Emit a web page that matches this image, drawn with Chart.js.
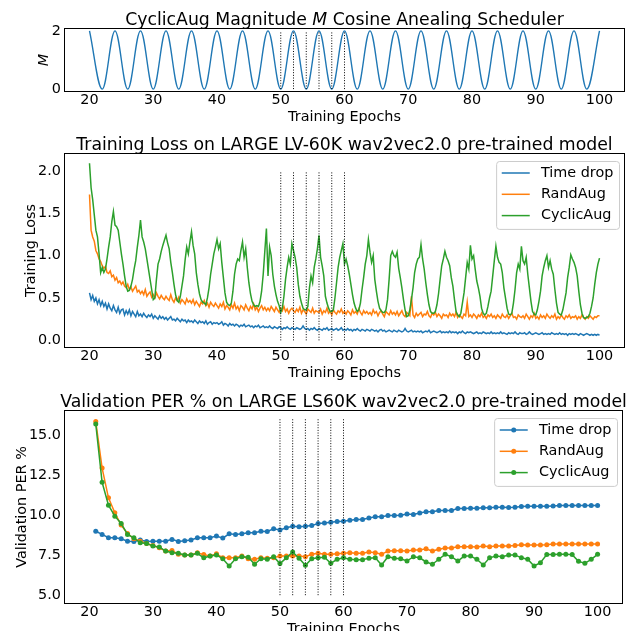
<!DOCTYPE html>
<html>
<head>
<meta charset="utf-8">
<script src="https://cdn.jsdelivr.net/npm/chart.js@4.4.0/dist/chart.umd.min.js"></script>
<style>
html, body { margin: 0; padding: 0; background: #fff; width: 627px; height: 631px; overflow: hidden; }
.panel { position: absolute; left: 0; width: 627px; }
</style>
</head>
<body>
<div class="panel" style="top:0px"><canvas id="schedChart" width="627" height="130"></canvas></div>
<div class="panel" style="top:125px"><canvas id="lossChart" width="627" height="261"></canvas></div>
<div class="panel" style="top:382px"><canvas id="perChart" width="627" height="260"></canvas></div>
<script>
"use strict";

// ---- data -----------------------------------------------------------
var epochTicks = [20, 30, 40, 50, 60, 70, 80, 90, 100];
var markEpochs = [50, 52, 54, 56, 58, 60];

// magnitude M scheduler: turning points, one every 2 epochs
var mEpochs = [20, 22, 24, 26, 28, 30, 32, 34, 36, 38, 40, 42, 44, 46, 48, 50, 52, 54, 56, 58,
               60, 62, 64, 66, 68, 70, 72, 74, 76, 78, 80, 82, 84, 86, 88, 90, 92, 94, 96, 98, 100];
var mValues = [2, 0, 2, 0, 2, 0, 2, 0, 2, 0, 2, 0, 2, 0, 2, 0, 2, 0, 2, 0,
               2, 0, 2, 0, 2, 0, 2, 0, 2, 0, 2, 0, 2, 0, 2, 0, 2, 0, 2, 0, 2];
var mTicks = [0, 2];

// training loss, one value every quarter epoch from epoch 20
var lossStart = 20;
var lossStep = 0.25;
var lossTicks = [0.0, 0.5, 1.0, 1.5, 2.0];
var lossTimeDrop = [
  0.56, 0.48, 0.53, 0.46, 0.50, 0.43, 0.48, 0.41, 0.46, 0.40, 0.44, 0.37, 0.43, 0.38, 0.35, 0.41,
  0.36, 0.33, 0.39, 0.32, 0.36, 0.37, 0.30, 0.35, 0.31, 0.36, 0.29, 0.34, 0.31, 0.28, 0.34, 0.29,
  0.31, 0.28, 0.32, 0.29, 0.27, 0.30, 0.28, 0.31, 0.26, 0.29, 0.27, 0.25, 0.29, 0.26, 0.28, 0.25,
  0.27, 0.24, 0.26, 0.28, 0.24, 0.25, 0.23, 0.26, 0.24, 0.22, 0.25, 0.23, 0.24, 0.21, 0.24, 0.22,
  0.23, 0.21, 0.24, 0.22, 0.20, 0.23, 0.21, 0.22, 0.20, 0.23, 0.19, 0.21, 0.22, 0.19, 0.21, 0.20,
  0.21, 0.19, 0.20, 0.22, 0.18, 0.20, 0.19, 0.17, 0.20, 0.18, 0.19, 0.17, 0.19, 0.18, 0.16, 0.18,
  0.17, 0.19, 0.16, 0.17, 0.18, 0.16, 0.17, 0.15, 0.17, 0.16, 0.18, 0.15, 0.16, 0.17, 0.15, 0.16,
  0.15, 0.17, 0.15, 0.14, 0.16, 0.15, 0.14, 0.16, 0.15, 0.13, 0.15, 0.14, 0.16, 0.14, 0.13, 0.15,
  0.14, 0.13, 0.15, 0.14, 0.13, 0.14, 0.17, 0.14, 0.13, 0.14, 0.12, 0.14, 0.13, 0.15, 0.13, 0.12,
  0.14, 0.13, 0.12, 0.14, 0.13, 0.15, 0.12, 0.13, 0.14, 0.12, 0.13, 0.14, 0.12, 0.13, 0.15, 0.12,
  0.13, 0.12, 0.14, 0.12, 0.13, 0.11, 0.13, 0.12, 0.14, 0.12, 0.11, 0.13, 0.12, 0.11, 0.13, 0.12,
  0.11, 0.13, 0.12, 0.11, 0.12, 0.10, 0.12, 0.13, 0.11, 0.12, 0.10, 0.11, 0.12, 0.11, 0.10, 0.12,
  0.11, 0.10, 0.12, 0.11, 0.10, 0.11, 0.14, 0.11, 0.10, 0.11, 0.12, 0.10, 0.11, 0.10, 0.11, 0.10,
  0.11, 0.09, 0.10, 0.11, 0.10, 0.12, 0.09, 0.10, 0.11, 0.10, 0.09, 0.10, 0.11, 0.09, 0.10, 0.09,
  0.10, 0.09, 0.11, 0.09, 0.10, 0.09, 0.10, 0.08, 0.10, 0.09, 0.11, 0.09, 0.08, 0.10, 0.09, 0.10,
  0.09, 0.08, 0.09, 0.10, 0.08, 0.09, 0.08, 0.10, 0.09, 0.08, 0.09, 0.08, 0.10, 0.08, 0.09, 0.08,
  0.09, 0.08, 0.10, 0.08, 0.09, 0.08, 0.07, 0.09, 0.08, 0.09, 0.08, 0.10, 0.08, 0.07, 0.09, 0.08,
  0.08, 0.09, 0.07, 0.08, 0.10, 0.08, 0.07, 0.08, 0.09, 0.08, 0.07, 0.08, 0.09, 0.07, 0.08, 0.07,
  0.08, 0.07, 0.09, 0.08, 0.07, 0.08, 0.07, 0.09, 0.07, 0.08, 0.07, 0.08, 0.06, 0.08, 0.07, 0.08,
  0.07, 0.08, 0.07, 0.06, 0.08, 0.07, 0.06, 0.07, 0.08, 0.07, 0.06, 0.07, 0.06, 0.07, 0.06, 0.07,
  0.06
];
var lossRandAug = [
  1.72, 1.30, 1.22, 1.17, 1.06, 1.02, 0.96, 0.93, 0.88, 0.85, 0.87, 0.80, 0.79, 0.82, 0.75, 0.77,
  0.71, 0.74, 0.68, 0.70, 0.66, 0.69, 0.64, 0.62, 0.66, 0.60, 0.63, 0.58, 0.61, 0.64, 0.57, 0.59,
  0.55, 0.58, 0.54, 0.60, 0.52, 0.55, 0.57, 0.51, 0.54, 0.50, 0.56, 0.52, 0.49, 0.53, 0.50, 0.48,
  0.52, 0.49, 0.47, 0.54, 0.48, 0.45, 0.50, 0.47, 0.51, 0.44, 0.48, 0.46, 0.43, 0.49, 0.45, 0.47,
  0.44, 0.48, 0.42, 0.46, 0.43, 0.40, 0.45, 0.43, 0.47, 0.41, 0.44, 0.39, 0.45, 0.42, 0.40, 0.44,
  0.41, 0.38, 0.43, 0.40, 0.45, 0.37, 0.41, 0.39, 0.36, 0.42, 0.38, 0.44, 0.37, 0.40, 0.35, 0.41,
  0.39, 0.36, 0.42, 0.38, 0.35, 0.40, 0.37, 0.43, 0.36, 0.39, 0.34, 0.38, 0.41, 0.36, 0.39, 0.35,
  0.38, 0.35, 0.40, 0.37, 0.34, 0.39, 0.36, 0.33, 0.38, 0.35, 0.40, 0.34, 0.37, 0.32, 0.36, 0.38,
  0.35, 0.33, 0.37, 0.34, 0.39, 0.32, 0.36, 0.34, 0.31, 0.37, 0.35, 0.33, 0.38, 0.32, 0.35, 0.34,
  0.33, 0.37, 0.31, 0.35, 0.33, 0.38, 0.32, 0.34, 0.30, 0.36, 0.33, 0.31, 0.35, 0.33, 0.37, 0.32,
  0.34, 0.31, 0.35, 0.33, 0.30, 0.36, 0.32, 0.34, 0.31, 0.37, 0.33, 0.30, 0.35, 0.32, 0.34, 0.31,
  0.33, 0.30, 0.36, 0.32, 0.34, 0.29, 0.33, 0.35, 0.31, 0.28, 0.34, 0.32, 0.30, 0.35, 0.31, 0.33,
  0.30, 0.34, 0.29, 0.32, 0.35, 0.30, 0.28, 0.33, 0.31, 0.29, 0.52, 0.30, 0.27, 0.32, 0.29, 0.31,
  0.33, 0.28, 0.31, 0.30, 0.34, 0.29, 0.27, 0.32, 0.30, 0.33, 0.28, 0.31, 0.29, 0.26, 0.31, 0.29,
  0.30, 0.27, 0.32, 0.29, 0.31, 0.28, 0.33, 0.27, 0.30, 0.28, 0.26, 0.31, 0.29, 0.45, 0.28, 0.30,
  0.27, 0.31, 0.29, 0.26, 0.30, 0.28, 0.32, 0.27, 0.29, 0.26, 0.30, 0.28, 0.31, 0.27, 0.29, 0.26,
  0.30, 0.28, 0.26, 0.31, 0.28, 0.27, 0.30, 0.26, 0.29, 0.32, 0.27, 0.28, 0.25, 0.30, 0.28, 0.27,
  0.29, 0.26, 0.31, 0.28, 0.25, 0.29, 0.27, 0.32, 0.26, 0.28, 0.25, 0.30, 0.27, 0.29, 0.26, 0.31,
  0.28, 0.26, 0.29, 0.27, 0.31, 0.25, 0.28, 0.26, 0.30, 0.27, 0.25, 0.29, 0.27, 0.30, 0.26, 0.28,
  0.27, 0.29, 0.25, 0.28, 0.26, 0.30, 0.27, 0.25, 0.28, 0.26, 0.29, 0.27, 0.25, 0.28, 0.27, 0.29,
  0.29
];
var lossCyclicAug = [
  2.09, 1.80, 1.66, 1.48, 1.30, 1.22, 1.02, 0.80,
  0.86, 0.80, 0.84, 0.96, 1.10, 1.22, 1.40, 1.52, 1.36, 1.34, 1.30, 1.16, 1.02, 0.90, 0.76, 0.64,
  0.58, 0.59, 0.64, 0.72, 0.84, 0.94, 1.10, 1.24, 1.42, 1.22, 1.16, 1.08, 0.96, 0.84, 0.72, 0.60,
  0.48, 0.50, 0.72, 0.90, 0.96, 1.05, 1.12, 1.18, 1.24, 1.15, 1.08, 0.92, 0.80, 0.66, 0.54, 0.47,
  0.45, 0.52, 0.64, 0.76, 0.95, 1.10, 1.02, 1.16, 1.28, 1.12, 1.02, 0.80, 0.66, 0.55, 0.48, 0.45,
  0.44, 0.42, 0.50, 0.62, 0.78, 0.90, 1.02, 1.10, 1.19, 1.08, 1.14, 0.92, 0.74, 0.56, 0.45, 0.42,
  0.41, 0.44, 0.58, 0.78, 0.90, 0.96, 0.94, 1.06, 1.16, 0.98, 1.08, 0.86, 0.68, 0.55, 0.46, 0.42,
  0.40, 0.41, 0.40, 0.46, 0.58, 0.78, 1.05, 1.32, 0.76, 1.10, 1.00, 0.78, 0.64, 0.54, 0.46, 0.41,
  0.33, 0.38, 0.52, 0.72, 0.86, 0.98, 0.90, 1.14, 1.06, 0.98, 0.86, 0.66, 0.52, 0.44, 0.38, 0.36,
  0.36, 0.40, 0.62, 0.76, 0.68, 0.86, 0.96, 1.08, 1.24, 0.98, 0.88, 0.76, 0.52, 0.44, 0.38, 0.34,
  0.34, 0.36, 0.50, 0.68, 0.86, 0.98, 1.06, 1.14, 0.90, 0.96, 0.88, 0.78, 0.66, 0.54, 0.44, 0.38,
  0.34, 0.36, 0.44, 0.60, 0.74, 0.90, 1.00, 1.19, 1.04, 0.92, 1.00, 0.72, 0.58, 0.46, 0.38, 0.35,
  0.33, 0.33, 0.36, 0.48, 0.72, 1.00, 1.05, 1.00, 0.98, 1.04, 0.85, 0.74, 0.62, 0.48, 0.36, 0.28,
  0.29, 0.36, 0.48, 0.62, 0.80, 0.90, 0.96, 0.98, 1.13, 0.96, 0.84, 0.68, 0.54, 0.42, 0.34, 0.32,
  0.32, 0.34, 0.42, 0.55, 0.72, 0.88, 0.96, 1.05, 0.98, 0.94, 0.88, 0.74, 0.64, 0.48, 0.34, 0.30,
  0.28, 0.32, 0.44, 0.56, 0.74, 0.92, 0.84, 1.12, 0.96, 1.00, 0.84, 0.70, 0.62, 0.52, 0.38, 0.32,
  0.30, 0.32, 0.40, 0.50, 0.58, 0.76, 0.94, 1.11, 0.98, 0.92, 0.90, 0.80, 0.62, 0.50, 0.38, 0.31,
  0.30, 0.32, 0.44, 0.60, 0.80, 0.90, 0.84, 1.11, 0.94, 0.90, 0.98, 0.78, 0.62, 0.46, 0.34, 0.31,
  0.30, 0.36, 0.46, 0.58, 0.76, 0.86, 0.94, 1.00, 0.86, 0.94, 0.84, 0.78, 0.60, 0.44, 0.33, 0.31,
  0.30, 0.36, 0.46, 0.56, 0.74, 0.86, 1.01, 0.96, 0.92, 0.86, 0.76, 0.58, 0.42, 0.32, 0.27, 0.26,
  0.27, 0.28, 0.32, 0.40, 0.50, 0.66, 0.80, 0.90, 0.97
];

// validation PER %, one value per epoch from epoch 21
var perStart = 21;
var perStep = 1;
var perTicks = [5.0, 7.5, 10.0, 12.5, 15.0];
var perTimeDrop = [
  8.99, 8.79, 8.58, 8.58, 8.52, 8.37, 8.35, 8.44, 8.35, 8.37,
  8.37, 8.37, 8.48, 8.35, 8.40, 8.44, 8.58, 8.58, 8.58, 8.69,
  8.56, 8.83, 8.79, 8.83, 8.90, 8.90, 8.99, 8.97, 9.14, 9.07,
  9.20, 9.30, 9.27, 9.30, 9.34, 9.47, 9.50, 9.55, 9.60, 9.61,
  9.68, 9.72, 9.72, 9.82, 9.89, 9.89, 9.97, 9.97, 9.99, 10.07,
  10.04, 10.13, 10.20, 10.20, 10.28, 10.28, 10.28, 10.40, 10.40, 10.42,
  10.42, 10.45, 10.45, 10.49, 10.49, 10.47, 10.49, 10.53, 10.55, 10.55,
  10.55, 10.55, 10.57, 10.59, 10.59, 10.60, 10.60, 10.60, 10.60, 10.60
];
var perRandAug = [
  15.83, 12.93, 11.07, 10.14, 9.37, 8.85, 8.52, 8.37, 8.23, 8.10,
  7.96, 7.75, 7.79, 7.55, 7.51, 7.51, 7.65, 7.53, 7.44, 7.58,
  7.33, 7.33, 7.33, 7.44, 7.27, 7.24, 7.33, 7.30, 7.33, 7.44,
  7.44, 7.44, 7.44, 7.40, 7.55, 7.61, 7.55, 7.55, 7.58, 7.61,
  7.65, 7.61, 7.61, 7.69, 7.65, 7.55, 7.75, 7.77, 7.77, 7.75,
  7.82, 7.82, 7.90, 7.75, 7.86, 7.94, 7.94, 8.02, 8.02, 8.02,
  8.00, 8.07, 8.02, 8.07, 8.07, 8.07, 8.10, 8.15, 8.13, 8.13,
  8.13, 8.15, 8.19, 8.19, 8.19, 8.19, 8.19, 8.19, 8.19, 8.19
];
var perCyclicAug = [
  15.68, 12.04, 10.61, 9.93, 9.47, 8.79, 8.58, 8.27, 8.23, 8.06,
  8.00, 7.75, 7.65, 7.61, 7.51, 7.51, 7.61, 7.33, 7.44, 7.51,
  7.27, 6.82, 7.27, 7.40, 7.37, 6.93, 7.27, 7.24, 7.40, 6.97,
  7.33, 7.69, 7.31, 6.86, 7.27, 7.33, 7.37, 6.99, 7.24, 7.33,
  7.24, 7.21, 7.21, 7.31, 7.33, 6.88, 7.40, 7.31, 7.27, 7.13,
  7.40, 7.33, 7.07, 6.93, 7.24, 7.55, 7.40, 7.13, 7.44, 7.44,
  7.24, 6.88, 7.33, 7.44, 7.40, 7.51, 7.51, 7.33, 7.24, 6.82,
  7.03, 7.53, 7.53, 7.55, 7.55, 7.53, 7.11, 6.99, 7.24, 7.55
];

// ---- styling ----------------------------------------------------------
var BLUE = '#1f77b4', ORANGE = '#ff7f0e', GREEN = '#2ca02c';
var LABEL_SIZE = 14.4, TITLE_SIZE = 17.3;
Chart.defaults.font.family = "'DejaVu Sans', sans-serif";
Chart.defaults.font.size = LABEL_SIZE;
Chart.defaults.color = '#000';

function pts(start, step, values) {
    return values.map(function (v, i) { return { x: start + i * step, y: v }; });
}

function series(label, color, start, step, values, order, dots) {
    return {
        label: label, data: pts(start, step, values), borderColor: color, backgroundColor: color,
        borderWidth: 1.5, pointRadius: dots ? 2.5 : 0, pointBorderWidth: 0,
        pointBackgroundColor: color, tension: 0, order: order, inLegend: true
    };
}

// dotted guide lines at the epochs of interest
function guideLines(lo, hi) {
    return markEpochs.map(function (e) {
        return {
            data: [{ x: e, y: lo }, { x: e, y: hi }], borderColor: '#000', borderWidth: 1,
            borderDash: [1, 1.65], pointRadius: 0, order: 0, inLegend: false
        };
    });
}

// frame, mixed-style title and matplotlib-like legend
var decor = {
    id: 'decor',
    afterDraw: function (chart, args, opts) {
        var ctx = chart.ctx, a = chart.chartArea;
        ctx.save();
        ctx.strokeStyle = '#000';
        ctx.lineWidth = 1;
        ctx.strokeRect(a.left + 0.5, a.top + 0.5, a.right - a.left - 1, a.bottom - a.top - 1);

        // title
        var total = 0;
        var fonts = opts.title.map(function (p) {
            return (p.italic ? 'italic ' : '') + TITLE_SIZE + "px 'DejaVu Sans', sans-serif";
        });
        opts.title.forEach(function (p, i) { ctx.font = fonts[i]; total += ctx.measureText(p.text).width; });
        var tx = (a.left + a.right) / 2 - total / 2;
        ctx.fillStyle = '#000';
        ctx.textBaseline = 'alphabetic';
        ctx.textAlign = 'left';
        opts.title.forEach(function (p, i) {
            ctx.font = fonts[i];
            ctx.fillText(p.text, tx, a.top - 3.5);
            tx += ctx.measureText(p.text).width;
        });

        // legend
        var items = chart.data.datasets.filter(function (d) { return d.inLegend; });
        if (items.length) {
            ctx.font = LABEL_SIZE + "px 'DejaVu Sans', sans-serif";
            var tw = 0;
            items.forEach(function (d) { tw = Math.max(tw, ctx.measureText(d.label).width); });
            var pad = 5.6, handle = 28, gap = 11.2, row = 21.3;
            var w = pad + handle + gap + tw + pad, h = row * items.length + 4;
            var x0 = a.right - 6 - w, y0 = a.top + 8;
            ctx.beginPath();
            ctx.roundRect(x0 + 0.5, y0 + 0.5, w, h, 3);
            ctx.fillStyle = 'rgba(255,255,255,0.8)';
            ctx.fill();
            ctx.strokeStyle = '#cccccc';
            ctx.stroke();
            items.forEach(function (d, i) {
                var cy = y0 + 12 + i * row;
                ctx.strokeStyle = d.borderColor;
                ctx.lineWidth = 1.5;
                ctx.beginPath();
                ctx.moveTo(x0 + pad, cy);
                ctx.lineTo(x0 + pad + handle, cy);
                ctx.stroke();
                if (d.pointRadius > 0) {
                    ctx.fillStyle = d.borderColor;
                    ctx.beginPath();
                    ctx.arc(x0 + pad + handle / 2, cy, d.pointRadius, 0, Math.PI * 2);
                    ctx.fill();
                }
                ctx.fillStyle = '#000';
                ctx.textBaseline = 'middle';
                ctx.fillText(d.label, x0 + pad + handle + gap, cy);
            });
        }
        ctx.restore();
    }
};

function axesOptions(o) {
    return {
        responsive: false,
        animation: false,
        events: [],
        layout: { padding: { top: 28, right: 2, left: 0, bottom: 0 } },
        plugins: { legend: { display: false }, tooltip: { enabled: false }, decor: { title: o.title } },
        scales: {
            x: {
                type: 'linear', min: 16, max: 104,
                grid: { display: false, drawTicks: false }, border: { display: false },
                ticks: { padding: 0, autoSkip: false, maxRotation: 0 },
                title: { display: true, text: 'Training Epochs', padding: { top: 0, bottom: 4 } },
                afterBuildTicks: function (s) { s.ticks = epochTicks.map(function (v) { return { value: v }; }); },
                afterFit: function (s) { s.height = 38; }
            },
            y: {
                type: 'linear', min: o.ymin, max: o.ymax,
                grid: { display: false, drawTicks: false }, border: { display: false },
                ticks: { padding: 3, callback: o.fmt },
                title: { display: true, text: o.ytitle, font: { style: o.italic ? 'italic' : 'normal' },
                         padding: { top: o.ytitlePad, bottom: 0 } },
                afterBuildTicks: function (s) { s.ticks = o.yticks.map(function (v) { return { value: v }; }); },
                afterFit: function (s) { s.width = 64; }
            }
        }
    };
}

// ---- charts ----------------------------------------------------------
new Chart(document.getElementById('schedChart'), {
    type: 'line',
    data: {
        datasets: [{
            label: 'M', data: mEpochs.map(function (e, i) { return { x: e, y: mValues[i] }; }),
            borderColor: BLUE, borderWidth: 1.4, pointRadius: 0, tension: 0.364, order: 1, inLegend: false
        }].concat(guideLines(0, 2))
    },
    options: axesOptions({
        ymin: -0.1, ymax: 2.1, yticks: mTicks, fmt: function (v) { return String(v); },
        ytitle: 'M', italic: true, ytitlePad: 36,
        title: [{ text: 'CyclicAug Magnitude ' }, { text: 'M', italic: true }, { text: ' Cosine Anealing Scheduler' }]
    }),
    plugins: [decor]
});

new Chart(document.getElementById('lossChart'), {
    type: 'line',
    data: {
        datasets: [
            series('Time drop', BLUE, lossStart, lossStep, lossTimeDrop, 3, false),
            series('RandAug', ORANGE, lossStart, lossStep, lossRandAug, 2, false),
            series('CyclicAug', GREEN, lossStart, lossStep, lossCyclicAug, 1, false)
        ].concat(guideLines(0, 2))
    },
    options: axesOptions({
        ymin: -0.09, ymax: 2.21, yticks: lossTicks, fmt: function (v) { return v.toFixed(1); },
        ytitle: 'Training Loss', italic: false, ytitlePad: 23,
        title: [{ text: 'Training Loss on LARGE LV-60K wav2vec2.0 pre-trained model' }]
    }),
    plugins: [decor]
});

new Chart(document.getElementById('perChart'), {
    type: 'line',
    data: {
        datasets: [
            series('Time drop', BLUE, perStart, perStep, perTimeDrop, 3, true),
            series('RandAug', ORANGE, perStart, perStep, perRandAug, 2, true),
            series('CyclicAug', GREEN, perStart, perStep, perCyclicAug, 1, true)
        ].concat(guideLines(5, 16))
    },
    options: axesOptions({
        ymin: 4.45, ymax: 16.55, yticks: perTicks, fmt: function (v) { return v.toFixed(1); },
        ytitle: 'Validation PER %', italic: false, ytitlePad: 14,
        title: [{ text: 'Validation PER % on LARGE LS60K wav2vec2.0 pre-trained model' }]
    }),
    plugins: [decor]
});
</script>
</body>
</html>
